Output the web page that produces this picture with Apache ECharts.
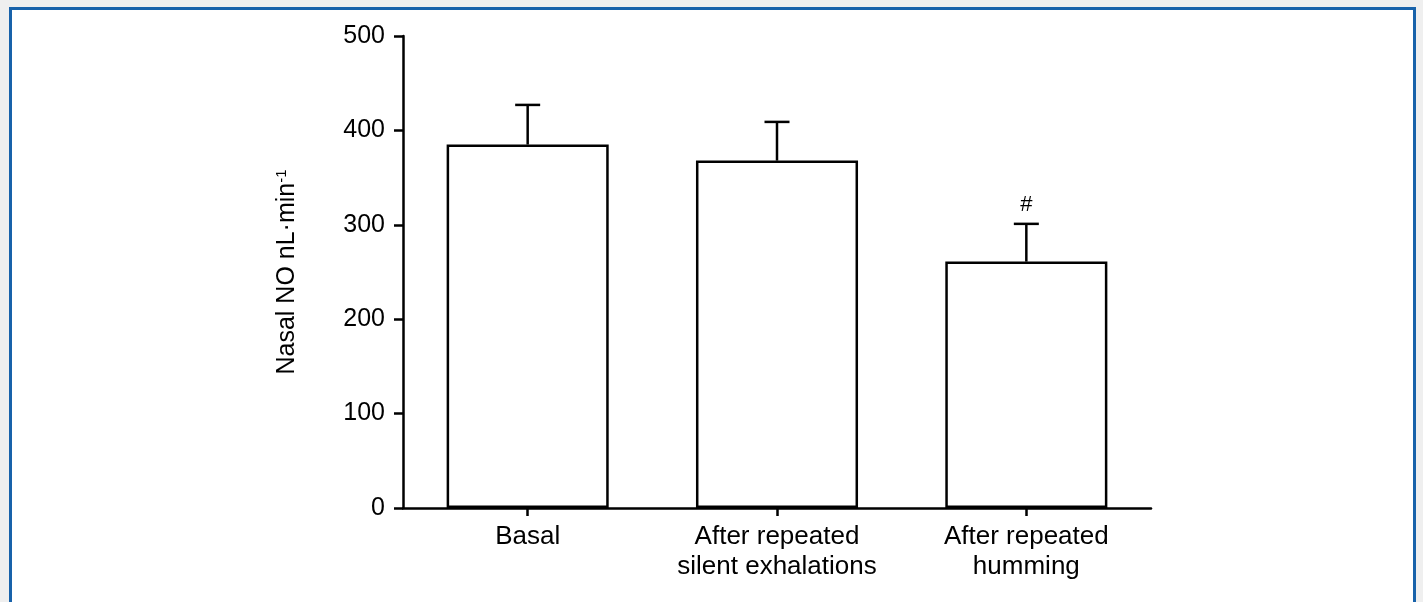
<!DOCTYPE html>
<html>
<head>
<meta charset="utf-8">
<script src="https://cdn.jsdelivr.net/npm/echarts@6/dist/echarts.min.js"></script>
<style>
html,body{margin:0;padding:0;width:1423px;height:602px;overflow:hidden;background:#efefef;}
#frame{position:absolute;left:9px;top:7px;width:1401px;height:620px;border:3px solid #1862aa;background:#fff;}
#chart{position:absolute;left:0;top:0;width:1423px;height:602px;}
</style>
</head>
<body>
<div id="frame"></div>
<div id="chart"></div>
<script>
const categories = ['Basal', 'After repeated\nsilent exhalations', 'After repeated\nhumming'];
const means = [385, 368, 261];
const upperErrors = [427, 409, 301];
const markers = ['', '', '#'];
const yTicks = [0, 100, 200, 300, 400, 500];

const FONT = '"Liberation Sans", Arial, Helvetica, sans-serif';

const chart = echarts.init(document.getElementById('chart'));
chart.setOption({
  backgroundColor: 'transparent',
  animation: false,
  grid: {left: 403, right: 272, top: 36, bottom: 94, containLabel: false},
  xAxis: {
    type: 'category',
    data: categories,
    axisLine: {lineStyle: {color: '#000', width: 2.5}},
    axisTick: {show: true, alignWithLabel: true, length: 8, lineStyle: {color: '#000', width: 2.5}},
    axisLabel: {color: '#000', fontFamily: FONT, fontSize: 26, lineHeight: 30, margin: 14, interval: 0}
  },
  yAxis: {
    type: 'value',
    min: yTicks[0],
    max: yTicks[yTicks.length - 1],
    interval: 100,
    name: 'Nasal NO nL·min{sup|-1}',
    nameLocation: 'middle',
    nameRotate: 90,
    nameGap: 102,
    nameTextStyle: {color: '#000', fontFamily: FONT, fontSize: 25,
      rich: {sup: {fontFamily: FONT, fontSize: 15, verticalAlign: 'top', padding: [0, 0, 12, 0], color: '#000'}}},
    axisLine: {show: true, lineStyle: {color: '#000', width: 2.5}},
    axisTick: {show: true, inside: false, length: 9, lineStyle: {color: '#000', width: 2.5}},
    axisLabel: {color: '#000', fontFamily: FONT, fontSize: 25, margin: 18},
    splitLine: {show: false}
  },
  series: [
    {
      type: 'bar',
      data: means,
      barCategoryGap: '35%',
      itemStyle: {color: '#fff', borderColor: '#000', borderWidth: 2.5},
      z: 2
    },
    {
      type: 'custom',
      data: means.map((m, i) => [i, m, upperErrors[i], markers[i]]),
      encode: {x: 0, y: [1, 2]},
      z: 3,
      renderItem: function (params, api) {
        const i = api.value(0);
        const base = api.coord([i, api.value(1)]);
        const top = api.coord([i, api.value(2)]);
        const half = 12.5;
        const children = [
          {type: 'line', shape: {x1: base[0], y1: base[1], x2: top[0], y2: top[1]}, style: {stroke: '#000', lineWidth: 2.5}},
          {type: 'line', shape: {x1: top[0] - half, y1: top[1], x2: top[0] + half, y2: top[1]}, style: {stroke: '#000', lineWidth: 2.5}}
        ];
        const mk = markers[params.dataIndex];
        if (mk) {
          children.push({type: 'text', x: top[0], y: top[1] - 8,
            style: {text: mk, fill: '#000', font: '22px ' + FONT, textAlign: 'center', textVerticalAlign: 'bottom'}});
        }
        return {type: 'group', children: children};
      }
    }
  ]
});
</script>
</body>
</html>
